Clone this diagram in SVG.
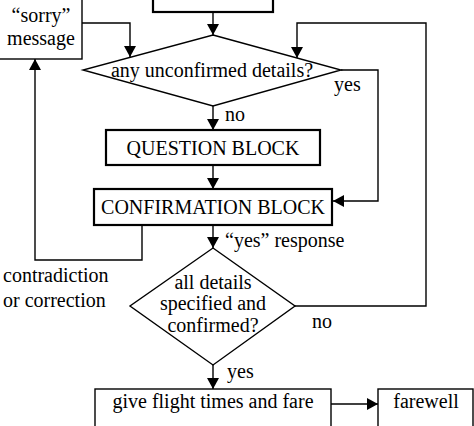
<svg xmlns="http://www.w3.org/2000/svg" width="474" height="426" viewBox="0 0 474 426">
<style>
text{font-family:"Liberation Serif","Times New Roman",serif;font-size:20px;fill:#000}
.c{text-anchor:middle}
.thick{fill:#fff;stroke:#000;stroke-width:2.2}
.thin{fill:#fff;stroke:#000;stroke-width:1.4}
.e{fill:none;stroke:#000;stroke-width:1.4}
</style>
<defs>
<marker id="ah" markerUnits="userSpaceOnUse" markerWidth="12" markerHeight="12" refX="11" refY="6" orient="auto">
<path d="M0,0 L11,6 L0,12 Z" fill="#000"/>
</marker>
</defs>
<g id="connectors">
<path class="e" d="M213,12 V35" marker-end="url(#ah)"/>
<path class="e" d="M82,23 H130 V57" marker-end="url(#ah)"/>
<path class="e" d="M295,306 H426 V23 H297 V58" marker-end="url(#ah)"/>
<path class="e" d="M341,70 H378 V201 H333" marker-end="url(#ah)"/>
<path class="e" d="M213,106 V130" marker-end="url(#ah)"/>
<path class="e" d="M213,165 V189" marker-end="url(#ah)"/>
<path class="e" d="M213,225 V248" marker-end="url(#ah)"/>
<path class="e" d="M142,225 V260 H35 V59" marker-end="url(#ah)"/>
<path class="e" d="M213,365 V389" marker-end="url(#ah)"/>
<path class="e" d="M331,404 H378" marker-end="url(#ah)"/>
</g>
<g id="top"><rect class="thick" x="153" y="-30" width="120" height="42"/></g>
<g id="sorry"><rect class="thin" x="-5" y="-30" width="87" height="89"/>
<text class="c" x="41" y="22">“sorry”</text><text class="c" x="41" y="45">message</text></g>
<g id="unconfirmed"><polygon class="thin" points="213,35 341,70 213,106 83,70"/>
<text class="c" x="212" y="77">any unconfirmed details?</text></g>
<g id="question"><rect class="thick" x="106" y="130" width="214" height="35"/>
<text class="c" x="213" y="155">QUESTION BLOCK</text></g>
<g id="confirmation"><rect class="thick" x="94" y="189" width="238" height="36"/>
<text class="c" x="213" y="214">CONFIRMATION BLOCK</text></g>
<g id="alldetails"><polygon class="thin" points="213,248 295,306 213,365 130,306"/>
<text class="c" x="213" y="289">all details</text>
<text class="c" x="213" y="310">specified and</text>
<text class="c" x="213" y="332">confirmed?</text></g>
<g id="give"><rect class="thin" x="95" y="389" width="236" height="45"/>
<text class="c" x="213" y="408">give flight times and fare</text></g>
<g id="farewell"><rect class="thin" x="378" y="389" width="95" height="45"/>
<text class="c" x="426" y="408">farewell</text></g>
<g id="labels">
<text x="334" y="91">yes</text>
<text x="225" y="121">no</text>
<text x="225" y="247">“yes” response</text>
<text x="3" y="282">contradiction</text>
<text x="3" y="307">or correction</text>
<text x="312" y="328">no</text>
<text x="227" y="378">yes</text>
</g>
</svg>
